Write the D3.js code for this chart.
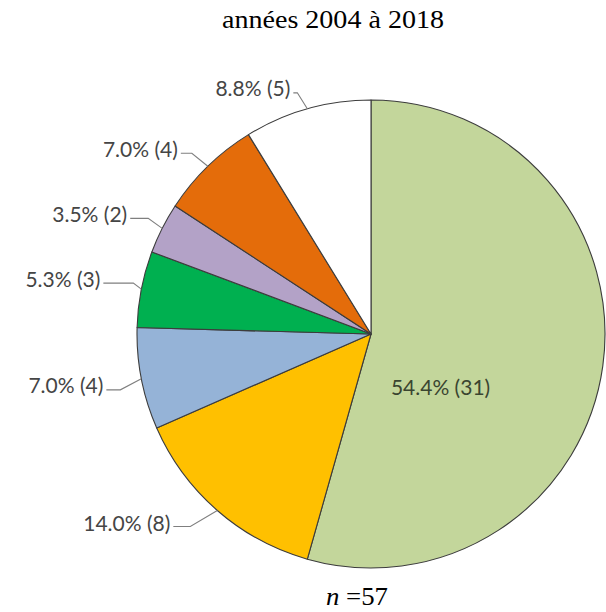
<!DOCTYPE html>
<html><head><meta charset="utf-8">
<script src="https://cdn.jsdelivr.net/npm/d3@7"></script>
<style>body{margin:0;background:#fff}</style>
</head><body>
<svg id="c" width="606" height="612"></svg>
<script>
const categories = ["A","B","C","D","E","F","G"];
const counts = [31, 8, 4, 3, 2, 4, 5];
const percents = ["54.4%","14.0%","7.0%","5.3%","3.5%","7.0%","8.8%"];
const colors = ["#C3D69B","#FFC000","#95B3D7","#00B050","#B3A2C7","#E46C0A","#FFFFFF"];
const title = "années 2004 à 2018";
const total = 57;

// layout: elbow (ex,ey) and text right end / centre (tx,ty), offsets from the arc point
const labelLayout = [
  null,
  {ex:-27, ey:16, tx:-47, ty:12},
  {ex:-21, ey:11, tx:-38, ty:6},
  {ex:-8, ey:-6, tx:-41, ty:-11},
  {ex:-14, ey:-10, tx:-35, ty:-15},
  {ex:-16, ey:-13, tx:-30, ty:-18},
  {ex:-10, ey:-16, tx:-17, ty:-21}
];

const svg = d3.select("#c");
const cx = 371, cy = 334, R = 234;
const g = svg.append("g").attr("transform", `translate(${cx},${cy})`);
const pie = d3.pie().sort(null).value(d => d)(counts);
const arc = d3.arc().innerRadius(0).outerRadius(R);

g.selectAll("path.s").data(pie).join("path")
  .attr("class","s")
  .attr("d", arc)
  .attr("fill", (d,i) => colors[i])
  .attr("stroke", "#3c3c3c")
  .attr("stroke-width", 1.1)
  .attr("stroke-linejoin","round");

const font = "Lato, 'Open Sans', sans-serif";
pie.forEach((d,i) => {
  const txt = `${percents[i]} (${counts[i]})`;
  const a = (d.startAngle + d.endAngle)/2;
  if (i === 0) {
    const r = 0.30*R;
    g.append("text")
      .attr("x", Math.sin(a)*r)
      .attr("y", -Math.cos(a)*r + 43)
      .attr("text-anchor","middle")
      .attr("dominant-baseline","central")
      .attr("font-family", font).attr("font-size", 21)
      .attr("fill","#3a4530")
      .text(txt);
    return;
  }
  const L = labelLayout[i];
  const px = Math.sin(a)*R, py = -Math.cos(a)*R;
  const ex = px + L.ex, ey = py + L.ey;
  const tx = px + L.tx, ty = py + L.ty;
  g.append("path")
    .attr("d", `M${px},${py}L${ex},${ey}L${tx+3},${ey}`)
    .attr("fill","none").attr("stroke","#7f7f7f").attr("stroke-width",1.1);
  g.append("text")
    .attr("x", tx).attr("y", ty)
    .attr("text-anchor","end")
    .attr("dominant-baseline","central")
    .attr("font-family", font).attr("font-size", 21)
    .attr("fill","#454545")
    .text(txt);
});

svg.append("text")
  .attr("x", 222).attr("y", 28)
  .attr("textLength", 222).attr("lengthAdjust","spacingAndGlyphs")
  .attr("font-family","'Liberation Serif', 'Times New Roman', serif")
  .attr("font-size", 25)
  .attr("fill","#000")
  .text(title);

const n = svg.append("text")
  .attr("x", 326).attr("y", 605)
  .attr("textLength", 62).attr("lengthAdjust","spacingAndGlyphs")
  .attr("font-family","'Liberation Serif', 'Times New Roman', serif")
  .attr("font-size", 25)
  .attr("fill","#000");
n.append("tspan").attr("font-style","italic").text("n");
n.append("tspan").text(" =" + total);
</script>
</body></html>
